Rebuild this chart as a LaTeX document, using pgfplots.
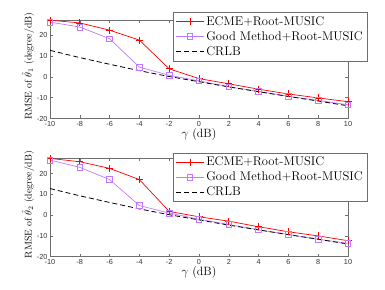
\documentclass[border=0pt]{standalone}
\usepackage{pgfplots}
\pgfplotsset{compat=1.18}
\usepackage{fontspec}
\newfontfamily\ticksans{Liberation Sans}
\definecolor{gm}{RGB}{191,122,255}
\definecolor{axgray}{RGB}{110,110,110}
\pgfplotstableread{
x ecme good crlb
-10 27.3 26.4 12.8
-8 26.0 24.0 9.3
-6 22.5 18.4 6.1
-4 17.7 4.7 3.0
-2 3.9 0.8 0.2
0 -0.8 -1.9 -2.3
2 -3.3 -4.7 -4.8
4 -5.9 -7.0 -7.1
6 -8.2 -9.3 -9.4
8 -10.1 -11.3 -11.6
10 -11.9 -13.4 -13.9
}\topdata
\pgfplotstableread{
x ecme good crlb
-10 27.3 26.5 12.8
-8 25.7 23.0 9.3
-6 22.5 17.1 6.1
-4 17.1 4.6 3.0
-2 1.8 1.0 0.2
0 -0.8 -2.0 -2.3
2 -2.9 -4.5 -4.8
4 -5.6 -7.1 -7.1
6 -8.0 -9.3 -9.4
8 -10.0 -11.6 -11.6
10 -12.3 -13.6 -13.9
}\botdata
\pgfplotsset{
  myaxis/.style={
    scale only axis, width=298pt, height=98.5pt,
    xmin=-10, xmax=10, ymin=-20, ymax=27.4,
    xtick={-10,-8,...,10}, ytick={-20,-10,0,10,20},
    tick align=inside, major tick length=3pt,
    axis line style={axgray, line width=0.5pt},
    tick style={axgray, line width=0.5pt},
    /pgf/number format/assume math mode=true,
    tick label style={font=\fontsize{7.3}{8}\selectfont\ticksans, text=black!80},
    xticklabel style={yshift=1pt},
    yticklabel style={xshift=1pt},
    xlabel={$\gamma$ (dB)},
    xlabel style={font=\fontsize{12}{14}\selectfont, at={(axis description cs:0.5,-0.165)}, anchor=center},
    ylabel style={font=\fontsize{9.8}{11}\selectfont, at={(axis description cs:-0.074,0.53)}, anchor=center, rotate=0},
    legend cell align=left,
    legend style={font=\fontsize{12.6}{14}\selectfont, draw=axgray, line width=0.5pt, fill=white,
      inner xsep=2pt, inner ysep=2pt, row sep=0.6pt},
    legend image code/.code={\draw[mark repeat=2,mark phase=2,#1] plot coordinates {(0pt,0pt) (14pt,0pt) (28pt,0pt)};},
  },
  ecme/.style={red, line width=0.7pt, mark=+, mark size=3.5pt, mark options={solid}},
  good/.style={gm, line width=0.7pt, mark=square, mark size=2.8pt, mark options={solid}},
  crlb/.style={black, dashed, line width=0.8pt, dash pattern=on 5pt off 3pt},
}
\begin{document}
\begin{tikzpicture}[x=1pt,y=1pt]
\useasboundingbox (0,0) rectangle (385,289);
\begin{axis}[myaxis, at={(50pt,170.5pt)}, anchor=south west,
  ylabel={RMSE of $\hat{\theta}_1$ (degree/dB)},
  legend style={at={(axis description cs:1.064,1.079)}, anchor=north east}]
\addplot[ecme] table[x=x,y=ecme]{\topdata};
\addlegendentry{ECME+Root-MUSIC}
\addplot[good] table[x=x,y=good]{\topdata};
\addlegendentry{Good Method+Root-MUSIC}
\addplot[crlb] table[x=x,y=crlb]{\topdata};
\addlegendentry{CRLB}
\end{axis}
\begin{axis}[myaxis, at={(50pt,32.3pt)}, anchor=south west,
  ylabel={RMSE of $\hat{\theta}_2$ (degree/dB)},
  legend style={at={(axis description cs:1.064,1.055)}, anchor=north east}]
\addplot[ecme] table[x=x,y=ecme]{\botdata};
\addlegendentry{ECME+Root-MUSIC}
\addplot[good] table[x=x,y=good]{\botdata};
\addlegendentry{Good Method+Root-MUSIC}
\addplot[crlb] table[x=x,y=crlb]{\botdata};
\addlegendentry{CRLB}
\end{axis}
\end{tikzpicture}
\end{document}
